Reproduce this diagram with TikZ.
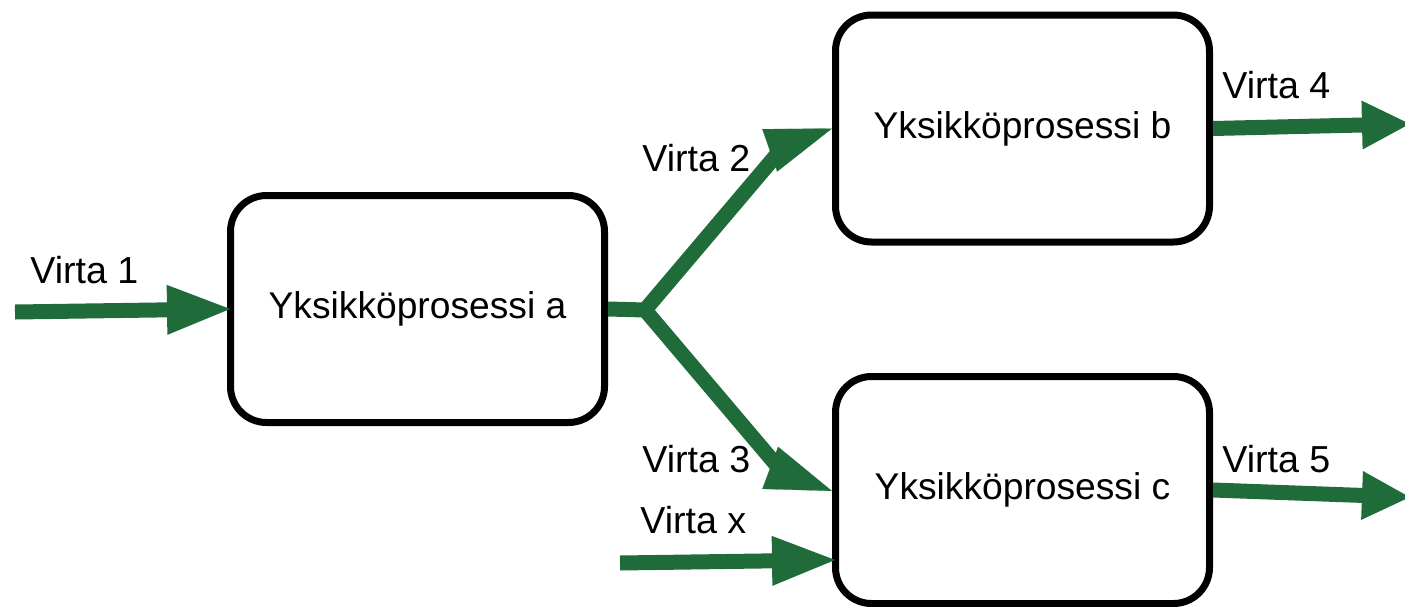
\documentclass[tikz,border=0pt]{standalone}
\usepackage{fontspec}
\setmainfont{Liberation Sans}
\usetikzlibrary{arrows.meta}
\definecolor{flow}{RGB}{31,107,58}
\begin{document}
\begin{tikzpicture}[x=0.5pt,y=-0.5pt,
  procbox/.style={draw=black,line width=3.5pt,rounded corners=18pt,minimum width=187pt,minimum height=113.5pt,font=\fontsize{18.6pt}{22pt}\selectfont,fill=white},
  flowline/.style={draw=flow,line width=7.5pt,shorten >=-3pt,-{Triangle[length=33pt,width=22.5pt]}},
  flowshaft/.style={draw=flow,line width=7.5pt},
  headonly/.style={draw=flow,line width=0.1pt,-{Triangle[length=33pt,width=22.5pt]}},
  shorthead/.style={draw=flow,line width=7.5pt,shorten >=-3pt,-{Triangle[length=24.5pt,width=22.5pt]}},
  flowlab/.style={anchor=base west,inner sep=0pt,font=\fontsize{18.8pt}{22pt}\selectfont}]
\useasboundingbox (0,0) rectangle (1405,606);
\node[procbox] (a) at (417.5,309) {Yksikköprosessi a};
\node[procbox] (b) at (1022.5,128.5) {Yksikköprosessi b};
\node[procbox] (c) at (1022.5,490) {Yksikköprosessi c};
\coordinate (in1) at (15,312);
\coordinate (j) at (645,310);
\coordinate (k2) at (784,146);
\coordinate (h2) at (769,150.6);
\coordinate (k3) at (784,474);
\coordinate (h3) at (769,467.4);
\coordinate (out4) at (1405,124);
\coordinate (out5) at (1405,497);
\coordinate (inx) at (620,563);
\coordinate (cx) at ([yshift=-35pt]c.west);
\draw[flowline] (in1) -- (a.west);
\draw[flowshaft] (a.east) -- (j) -- (k2);
\draw[headonly] (h2) -- (b.west);
\draw[flowshaft] (j) -- (k3);
\draw[headonly] (h3) -- ([yshift=-0.5pt]c.west);
\draw[shorthead] (b.east) -- (out4);
\draw[shorthead] (c.east) -- (out5);
\draw[flowline] (inx) -- (cx);
\node[flowlab] (l1) at (30,283) {Virta 1};
\node[flowlab] (l2) at (642,171) {Virta 2};
\node[flowlab] (l3) at (642,472) {Virta 3};
\node[flowlab] (lx) at (640,533) {Virta x};
\node[flowlab] (l4) at (1222,98) {Virta 4};
\node[flowlab] (l5) at (1222,472) {Virta 5};
\end{tikzpicture}
\end{document}
